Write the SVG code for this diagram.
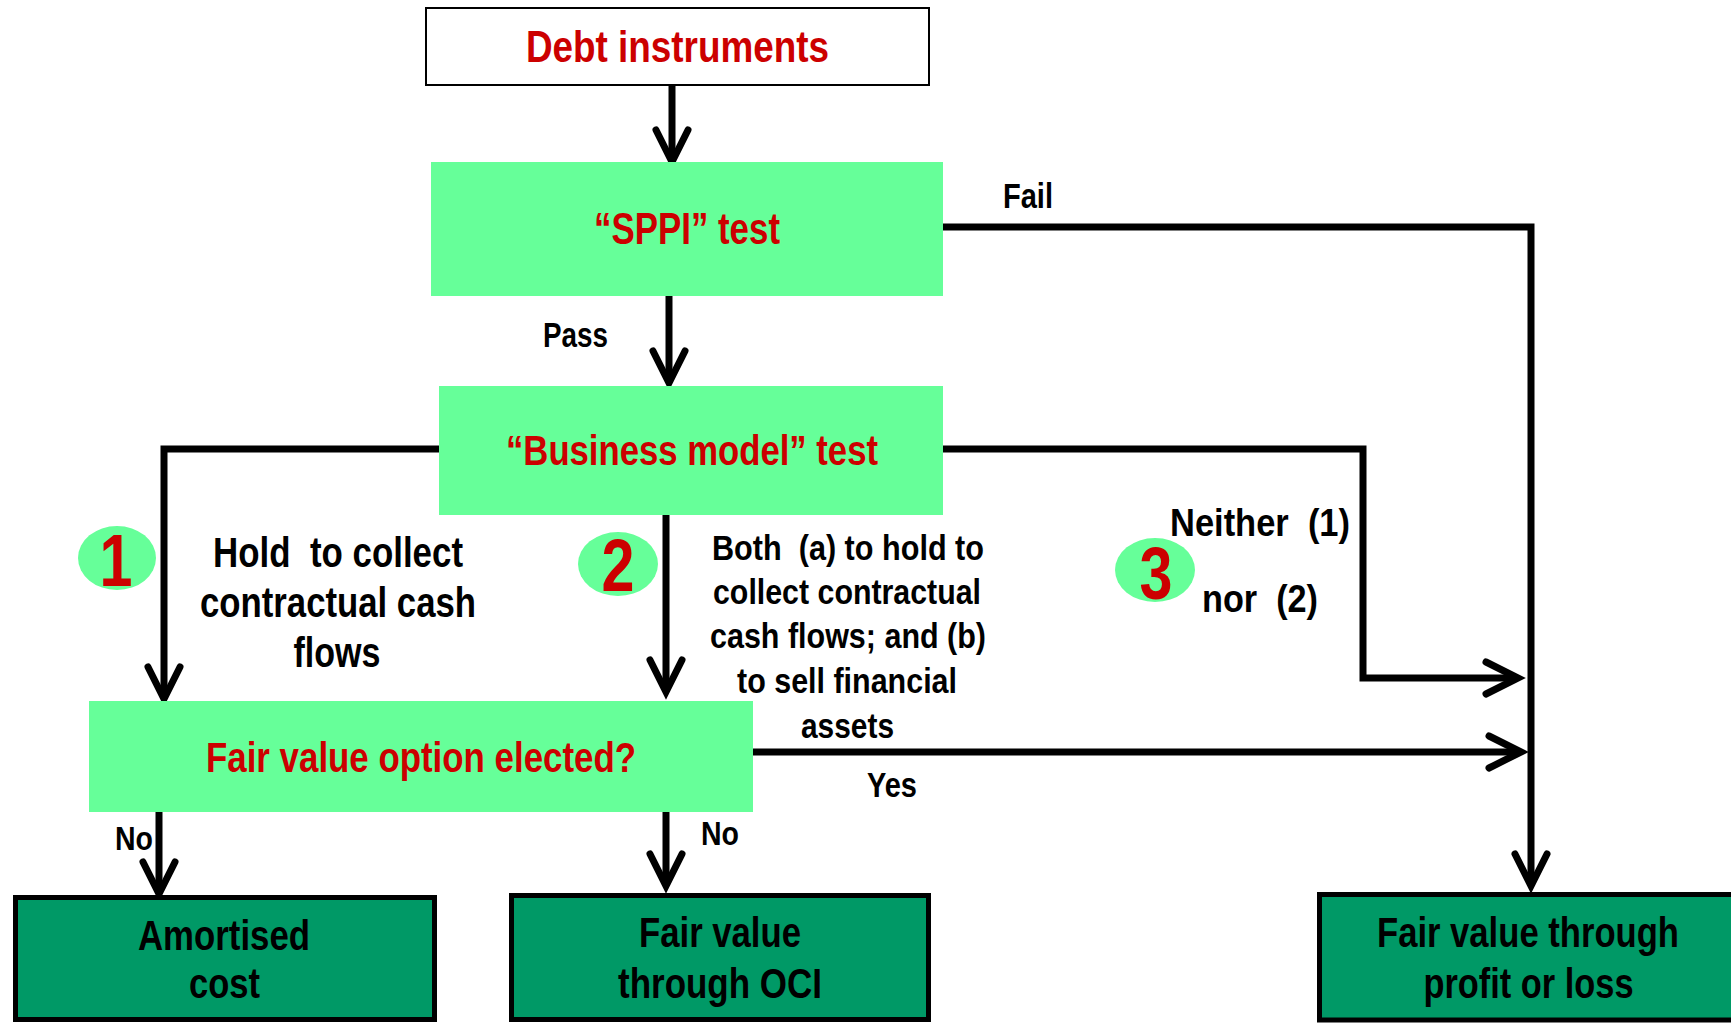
<svg xmlns="http://www.w3.org/2000/svg" width="1731" height="1023" viewBox="0 0 1731 1023">
  <style>
    .t { font-family: "Liberation Sans", Arial, sans-serif; font-weight: bold; text-anchor: middle; white-space: pre; }
    .red { fill: #CC0000; }
    .blk { fill: #000000; }
    .test { fill: #66FF99; }
    .result { fill: #009966; stroke: #000000; stroke-width: 5; }
    .badge { fill: #66FF99; }
    .conn { fill: none; stroke: #000000; stroke-width: 7; stroke-linejoin: miter; stroke-linecap: butt; marker-end: url(#ah); }
    .line { fill: none; stroke: #000000; stroke-width: 7; stroke-linejoin: miter; }
  </style>
  <defs>
    <marker id="ah" markerUnits="userSpaceOnUse" markerWidth="60" markerHeight="60" viewBox="-40 -30 60 60" refX="0" refY="0" orient="auto" overflow="visible">
      <path d="M-32,-16 L0,0 L-32,16" fill="none" stroke="#000000" stroke-width="7" stroke-linecap="round" stroke-linejoin="miter"/>
    </marker>
  </defs>
  <rect width="1731" height="1023" fill="#FFFFFF"/>

  <!-- connectors -->
  <g id="connectors">
    <path class="conn" d="M672,72 V162"/>
    <path class="conn" d="M943,227 H1531 V886"/>
    <path class="conn" d="M669,293 V383"/>
    <path class="conn" d="M439,449 H164 V699"/>
    <path class="conn" d="M666,511 V692"/>
    <path class="conn" d="M943,449 H1363 V678 H1518"/>
    <path class="conn" d="M753,752 H1521"/>
    <path class="conn" d="M159,812 V894"/>
    <path class="conn" d="M666,812 V886"/>
    <text class="t blk" x="1028" y="208" font-size="35" textLength="50" lengthAdjust="spacingAndGlyphs">Fail</text>
    <text class="t blk" x="575.5" y="347" font-size="35" textLength="65" lengthAdjust="spacingAndGlyphs">Pass</text>
    <text class="t blk" x="892" y="797" font-size="35" textLength="50" lengthAdjust="spacingAndGlyphs">Yes</text>
    <text class="t blk" x="134" y="850" font-size="34" textLength="38" lengthAdjust="spacingAndGlyphs">No</text>
    <text class="t blk" x="720" y="845" font-size="34" textLength="38" lengthAdjust="spacingAndGlyphs">No</text>
  </g>

  <g id="debt-instruments">
    <rect x="426" y="8" width="503" height="77" fill="#FFFFFF" stroke="#000000" stroke-width="2"/>
    <text class="t red" x="677.5" y="62" font-size="44" textLength="303" lengthAdjust="spacingAndGlyphs">Debt instruments</text>
  </g>

  <g id="sppi-test">
    <rect class="test" x="431" y="162" width="512" height="134"/>
    <text class="t red" x="687" y="244" font-size="44" textLength="186" lengthAdjust="spacingAndGlyphs">“SPPI” test</text>
  </g>

  <g id="business-model-test">
    <rect class="test" x="439" y="386" width="504" height="129"/>
    <text class="t red" x="692" y="465" font-size="42" textLength="372" lengthAdjust="spacingAndGlyphs">“Business model” test</text>
  </g>

  <g id="model-1">
    <ellipse class="badge" cx="117" cy="558" rx="39" ry="32"/>
    <text class="t red" x="116" y="586" font-size="74" transform="translate(116 0) scale(0.8 1) translate(-116 0)">1</text>
    <text class="t blk" x="338" y="567" font-size="42" textLength="250" lengthAdjust="spacingAndGlyphs">Hold  to collect</text>
    <text class="t blk" x="338" y="617" font-size="42" textLength="276" lengthAdjust="spacingAndGlyphs">contractual cash</text>
    <text class="t blk" x="337" y="667" font-size="42" textLength="87" lengthAdjust="spacingAndGlyphs">flows</text>
  </g>

  <g id="model-2">
    <ellipse class="badge" cx="618" cy="564" rx="40" ry="32"/>
    <text class="t red" x="618" y="591" font-size="74" transform="translate(618 0) scale(0.8 1) translate(-618 0)">2</text>
    <text class="t blk" x="848" y="560" font-size="35" textLength="272" lengthAdjust="spacingAndGlyphs">Both  (a) to hold to</text>
    <text class="t blk" x="847" y="604" font-size="35" textLength="268" lengthAdjust="spacingAndGlyphs">collect contractual</text>
    <text class="t blk" x="848" y="648" font-size="35" textLength="276" lengthAdjust="spacingAndGlyphs">cash flows; and (b)</text>
    <text class="t blk" x="847" y="693" font-size="35" textLength="220" lengthAdjust="spacingAndGlyphs">to sell financial</text>
    <text class="t blk" x="847.5" y="738" font-size="35" textLength="93" lengthAdjust="spacingAndGlyphs">assets</text>
  </g>

  <g id="model-3">
    <ellipse class="badge" cx="1155" cy="570" rx="40" ry="32"/>
    <text class="t red" x="1156" y="599" font-size="74" transform="translate(1156 0) scale(0.8 1) translate(-1156 0)">3</text>
    <text class="t blk" x="1260" y="536" font-size="39" textLength="180" lengthAdjust="spacingAndGlyphs">Neither  (1)</text>
    <text class="t blk" x="1260" y="612" font-size="39" textLength="116" lengthAdjust="spacingAndGlyphs">nor  (2)</text>
  </g>

  <g id="fair-value-option">
    <rect class="test" x="89" y="701" width="664" height="111"/>
    <text class="t red" x="421" y="772" font-size="42" textLength="430" lengthAdjust="spacingAndGlyphs">Fair value option elected?</text>
  </g>

  <g id="amortised-cost">
    <rect class="result" x="15.5" y="897.5" width="419" height="122"/>
    <text class="t blk" x="224" y="950" font-size="42" textLength="172" lengthAdjust="spacingAndGlyphs">Amortised</text>
    <text class="t blk" x="224.5" y="998" font-size="42" textLength="71" lengthAdjust="spacingAndGlyphs">cost</text>
  </g>

  <g id="fv-oci">
    <rect class="result" x="511.5" y="895.5" width="417" height="124"/>
    <text class="t blk" x="720" y="947" font-size="42" textLength="162" lengthAdjust="spacingAndGlyphs">Fair value</text>
    <text class="t blk" x="720" y="998" font-size="42" textLength="204" lengthAdjust="spacingAndGlyphs">through OCI</text>
  </g>

  <g id="fv-pl">
    <rect class="result" x="1319.5" y="894.5" width="420" height="125.5"/>
    <text class="t blk" x="1528" y="947" font-size="42" textLength="302" lengthAdjust="spacingAndGlyphs">Fair value through</text>
    <text class="t blk" x="1528.5" y="998" font-size="42" textLength="210" lengthAdjust="spacingAndGlyphs">profit or loss</text>
  </g>
</svg>
